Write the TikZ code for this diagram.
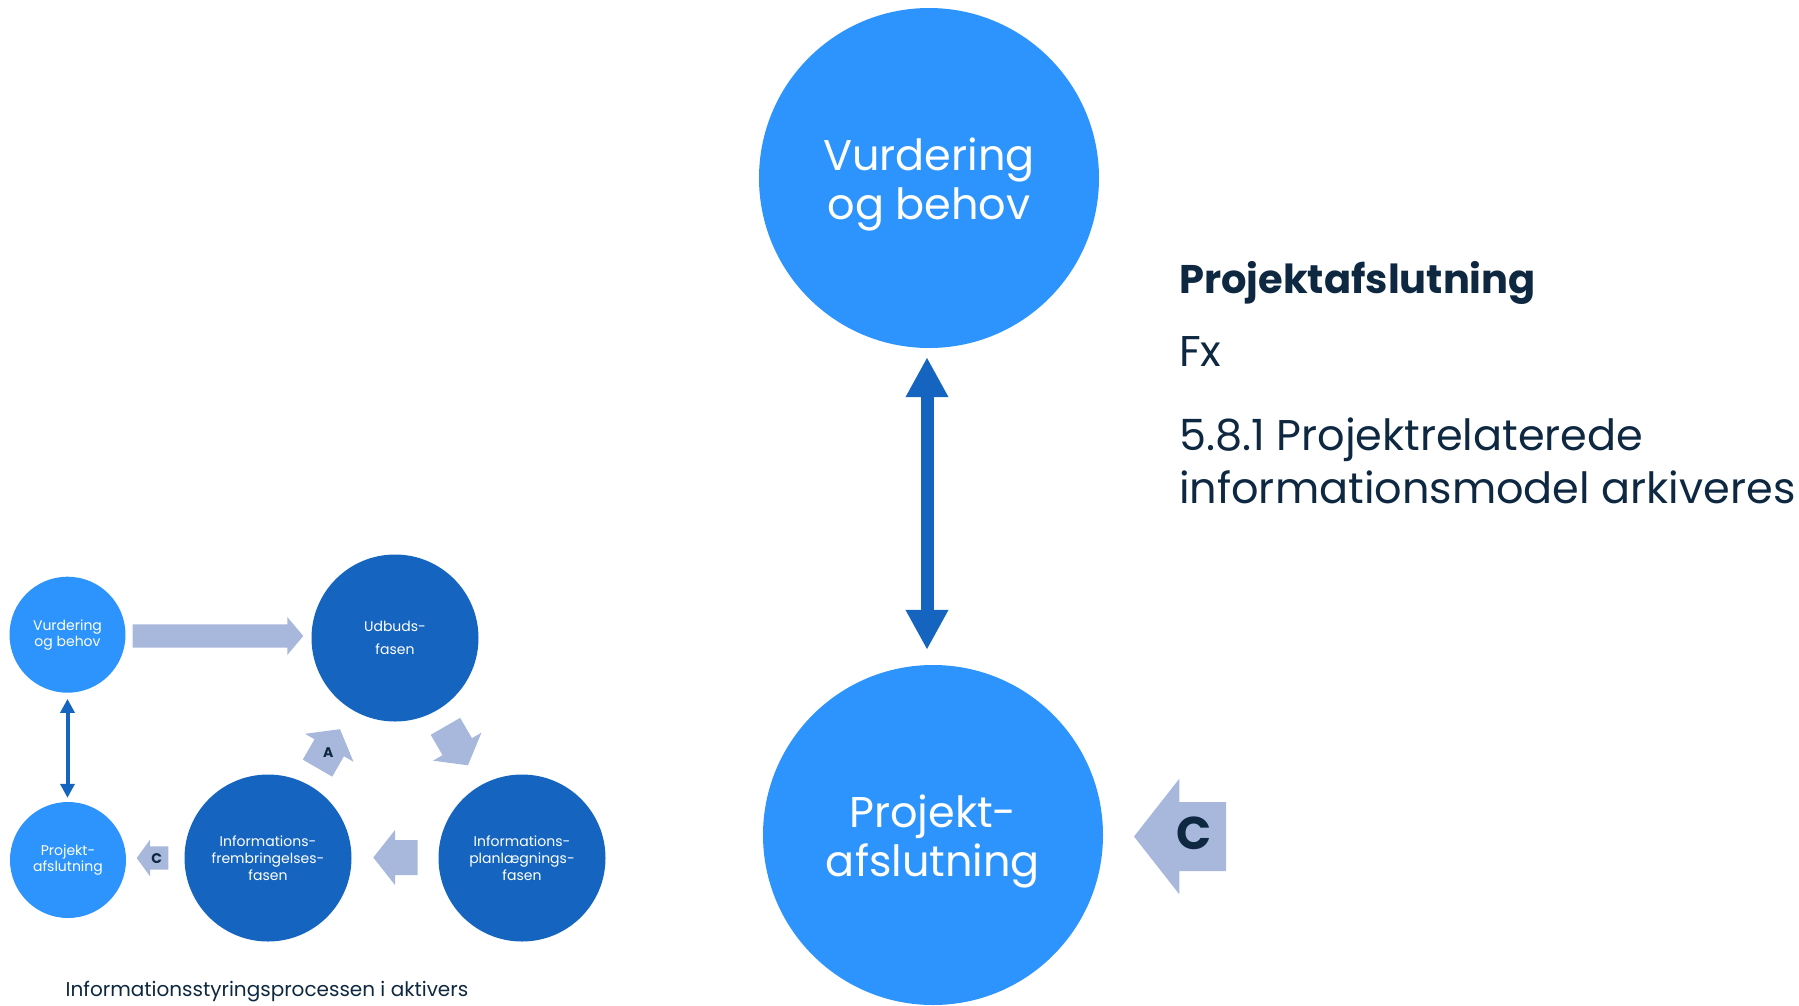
\documentclass[tikz,border=0pt]{standalone}
\usepackage{fontspec}
\setmainfont{Poppins}
\usetikzlibrary{arrows.meta}
\definecolor{cbright}{RGB}{45,148,254}
\definecolor{cdark}{RGB}{21,101,192}
\definecolor{carrow}{RGB}{168,184,220}
\definecolor{cnavy}{RGB}{14,40,65}
% block arrow: x, y, angle, length, head length, head half width, shaft half width
\newcommand\blkarrow[7]{%
  \begin{scope}[shift={(#1,#2)},rotate=#3]
    \fill[arrfill] (-#4/2,-#7) -- (#4/2-#5,-#7) -- (#4/2-#5,-#6) -- (#4/2,0)
      -- (#4/2-#5,#6) -- (#4/2-#5,#7) -- (-#4/2,#7) -- cycle;
  \end{scope}}
\begin{document}
\begin{tikzpicture}[x=1pt,y=-1pt,
  bigcirc/.style={circle, fill=cbright, inner sep=0pt, minimum size=340pt},
  bigtext/.style={text=white, align=center, inner sep=0pt, font=\fontsize{43}{49}\selectfont},
  smallcirc/.style={circle, fill=cbright, inner sep=0pt, minimum size=116pt, text=white, align=center, font=\fontsize{14}{16}\selectfont},
  darkcirc/.style={circle, fill=cdark, inner sep=0pt, minimum size=167pt, text=white, align=center, font=\fontsize{14}{17}\selectfont},
  arrfill/.style={fill=carrow},
  lettr/.style={text=cnavy, inner sep=0pt, font=\bfseries\fontsize{14}{14}\selectfont},
  rtext/.style={text=cnavy, anchor=base west, inner sep=0pt, font=\fontsize{43}{43}\selectfont},
  bigdbl/.style={draw=cdark, line width=13pt, {Triangle[length=40pt,width=40pt]}-{Triangle[length=40pt,width=40pt]}},
  smalldbl/.style={draw=cdark, line width=4pt, {Triangle[length=14pt,width=14pt]}-{Triangle[length=14pt,width=14pt]}},
]
\useasboundingbox (0,0) rectangle (1799,1005);

% big circles
\node[bigcirc] (vurB) at (929,178) {};
\node[bigtext] (vurBt) at ([yshift=-6pt]vurB.center) {Vurdering\\og behov};
\node[bigcirc] (proB) at (933,835) {};
\node[bigtext] (proBt) at ([yshift=-6pt]proB.center) {Projekt-\\afslutning};
\coordinate (dblTop) at ([xshift=-2pt]vurB.south);
\draw[bigdbl, shorten <=9pt, shorten >=15pt] (dblTop) -- (dblTop |- proB.north);

% big C arrow
\blkarrow{1180}{836.5}{180}{92}{45.3}{57.8}{34.5}
\node[lettr, font=\bfseries\fontsize{46}{46}\selectfont] (lcb) at (1194.5,833.3) {C};

% right texts
\node[rtext, font=\bfseries\fontsize{40}{40}\selectfont] (head) at (1179,293.3) {Projektafslutning};
\node[rtext] (fx) at (1179,366.7) {Fx};
\node[rtext] (b1) at (1179,450) {5.8.1 Projektrelaterede};
\node[rtext] (b2) at (1179,503.3) {informationsmodel arkiveres};

% small diagram
\node[smallcirc] (vurS) at (67.5,634.7) {Vurdering\\og behov};
\node[smallcirc] (proS) at (68,860) {Projekt-\\afslutning};
\node[darkcirc, font=\fontsize{14}{23}\selectfont] (udb) at (395,638) {Udbuds-\\fasen};
\node[darkcirc] (frem) at (268,858) {Informations-\\frembringelses-\\fasen};
\node[darkcirc] (plan) at (522,858) {Informations-\\planlægnings-\\fasen};
\draw[smalldbl, shorten <=6pt, shorten >=4pt] (vurS.south) -- (vurS.south |- proS.north);

\blkarrow{218}{636}{0}{170.6}{16}{19}{11.7}
\blkarrow{456.7}{745.8}{-60}{45}{21.5}{28}{17}
\blkarrow{395.5}{857.5}{180}{44.4}{21.7}{27.5}{17.5}
\blkarrow{328.75}{748.65}{60}{45}{21.5}{28}{17}
\blkarrow{152.5}{858}{180}{31.6}{13.3}{18.3}{11.7}
\node[lettr] (la) at (328.3,752.7) {A};
\node[lettr] (lc) at (156.7,858.3) {C};

% caption
\node[text=cnavy, inner sep=0pt, anchor=base, font=\fontsize{20}{20}\selectfont] (cap) at (267,996.7) {Informationsstyringsprocessen i aktivers};
\end{tikzpicture}
\end{document}
